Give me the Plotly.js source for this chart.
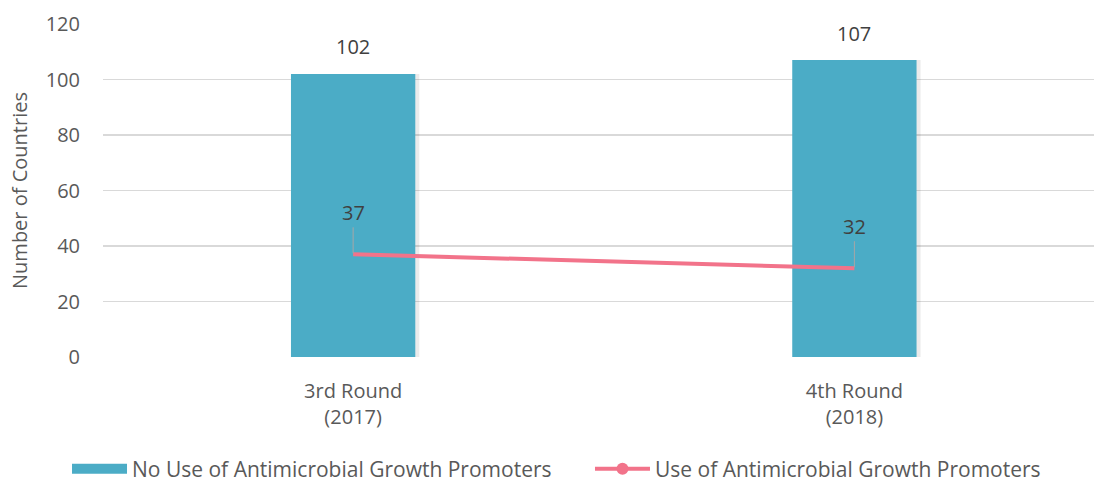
<!DOCTYPE html>
<html>
<head>
<meta charset="utf-8">
<script src="https://cdn.plot.ly/plotly-3.0.1.min.js"></script>
<style>html,body{margin:0;padding:0;background:#fff}#chart{width:1095px;height:482px}</style>
</head>
<body>
<div id="chart"></div>
<script>
const categories = ["3rd Round<br>(2017)", "4th Round<br>(2018)"];
const noUseValues = [102, 107];
const useValues = [37, 32];
const yTicks = [0, 20, 40, 60, 80, 100, 120];

const FONT = "Open Sans, Liberation Sans, sans-serif";
const barColor = "#4BACC6";
const lineColor = "#F2738A";

const traces = [
  {
    type: "bar",
    x: categories,
    y: noUseValues,
    name: "shadow",
    marker: {color: "rgba(0,0,0,0.08)"},
    width: 0.248,
    offset: -0.124 + 0.008,
    showlegend: false,
    hoverinfo: "skip"
  },
  {
    type: "bar",
    x: categories,
    y: noUseValues,
    name: "No Use of Antimicrobial Growth Promoters",
    marker: {color: barColor},
    width: 0.248,
    offset: -0.124,
    showlegend: false,
    hoverinfo: "skip"
  },
  {
    type: "scatter",
    mode: "lines",
    x: [null],
    y: [null],
    name: "No Use of Antimicrobial Growth Promoters",
    line: {color: barColor, width: 14},
    legend: "legend"
  },
  {
    type: "scatter",
    mode: "lines",
    x: categories,
    y: useValues,
    name: "Use of Antimicrobial Growth Promoters",
    line: {color: lineColor, width: 4},
    showlegend: false,
    hoverinfo: "skip"
  },
  {
    type: "scatter",
    mode: "lines+markers",
    x: [null],
    y: [null],
    name: "Use of Antimicrobial Growth Promoters",
    line: {color: lineColor, width: 4},
    marker: {color: lineColor, size: 12},
    legend: "legend2"
  }
];

const annotations = categories.map((c, i) => ({
  x: c, y: useValues[i], xref: "x", yref: "y",
  text: String(useValues[i]),
  showarrow: true, arrowhead: 0, arrowwidth: 1, arrowcolor: "#A6A6A6",
  ax: 0, ay: -42, standoff: 1,
  font: {family: FONT, size: 20, color: "#404040"}
})).concat(categories.map((c, i) => ({
  x: c, y: noUseValues[i], xref: "x", yref: "y",
  text: String(noUseValues[i]),
  showarrow: false, yanchor: "middle", yshift: 27,
  font: {family: FONT, size: 20, color: "#404040"}
})));

const legendBase = {
  orientation: "h", xref: "container", yref: "container",
  xanchor: "left", y: 0.027, yanchor: "middle",
  font: {family: FONT, size: 21, color: "#595959"},
  itemwidth: 55, bgcolor: "rgba(0,0,0,0)"
};

const layout = {
  width: 1095, height: 482,
  margin: {l: 103, r: 1, t: 24, b: 125},
  paper_bgcolor: "#fff", plot_bgcolor: "#fff",
  font: {family: FONT, color: "#595959", size: 20},
  barmode: "overlay",
  showlegend: true,
  legend: Object.assign({}, legendBase, {x: 0.0612}),
  legend2: Object.assign({}, legendBase, {x: 0.5388}),
  xaxis: {
    type: "category",
    range: [-0.499, 1.478],
    showgrid: false, zeroline: false, showline: false,
    ticks: "", ticklabelstandoff: 20,
    tickfont: {family: FONT, size: 20, color: "#595959"}
  },
  yaxis: {
    range: [0, 120],
    tickvals: yTicks,
    ticktext: yTicks.map(String),
    showgrid: true, gridcolor: "#D9D9D9", gridwidth: 1.5,
    zeroline: false, showline: false, ticks: "",
    ticklabelstandoff: 22,
    tickfont: {family: FONT, size: 20, color: "#595959"},
    title: {text: "Number of Countries", font: {family: FONT, size: 20, color: "#595959"}, standoff: 12}
  },
  annotations: annotations
};

Plotly.newPlot("chart", traces, layout, {displayModeBar: false, staticPlot: true});
</script>
</body>
</html>
